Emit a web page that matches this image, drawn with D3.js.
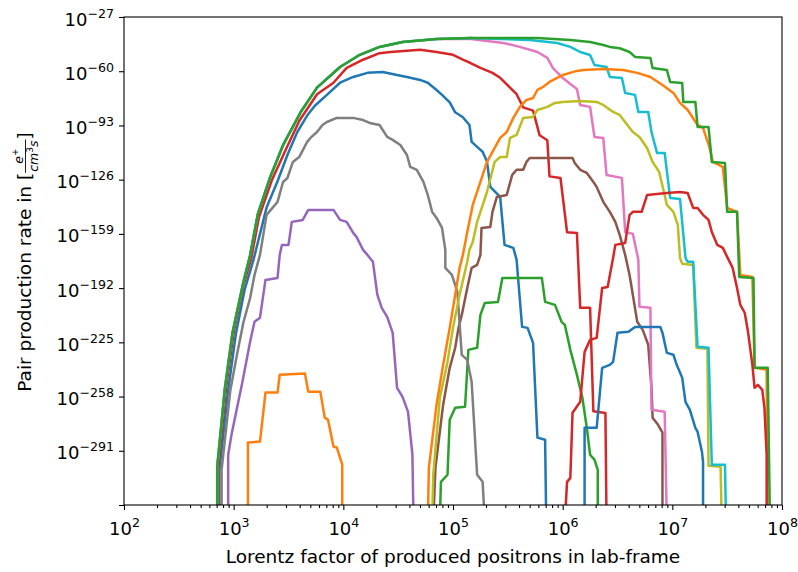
<!DOCTYPE html>
<head>
  <meta charset="utf-8">
  <script src="https://d3js.org/d3.v7.min.js"></script>
  <style>
    body { margin: 0; background: #fff; }
    svg text { font-family: "DejaVu Sans", sans-serif; fill: #000; }
    .curve { fill: none; stroke-width: 2.5; stroke-linejoin: round; }
    .axis line { stroke: #000; stroke-width: 1.1; }
    .axis .domain { display: none; }
    .frame { fill: none; stroke: #000; stroke-width: 1.1; }
  </style>
</head>
<body>
<div id="chart"></div>
<script>
// values are log10: [log10(gamma), log10(rate)]; Z means zero rate (falls off the bottom)
var Z = -Infinity;

var xTickExps = [2, 3, 4, 5, 6, 7, 8];
var yTickExps = [-324, -291, -258, -225, -192, -159, -126, -93, -60, -27];

// shared low-gamma rise of the three widest curves
var riseEdge = [[2.85,Z],[2.85,-301],[2.92,-253],[2.99,-219],[3.09,-188],[3.15,-172],[3.22,-147],
  [3.33,-125],[3.45,-105],[3.61,-85],[3.76,-70],[3.97,-57.4],[4.15,-50],[4.33,-45.2],[4.54,-42.2],[4.85,-40.4]];

var blue1 = [[2.87,Z],[2.87,-302.6],[2.95,-254],[3.02,-220],[3.10,-193],[3.18,-175],[3.30,-143],[3.40,-127],
  [3.49,-111],[3.58,-97],[3.67,-87],[3.74,-81],[3.85,-74.4],[3.97,-67],[4.09,-63.5],[4.22,-61],[4.36,-60.5],
  [4.49,-62.3],[4.58,-63.5],[4.70,-65.3],[4.77,-67],[4.85,-71.4],[4.90,-74.4],[4.97,-79],[5.02,-85],[5.09,-88],
  [5.15,-92.7],[5.17,-103],[5.22,-106],[5.27,-109],[5.31,-115],[5.34,-130.4],[5.43,-136.5],[5.47,-165.7],
  [5.55,-167.5],[5.58,-174.8],[5.63,-215.6],[5.68,-216.2],[5.73,-225.3],[5.77,-283],[5.84,-284.3],[5.85,Z]];

var orange1 = [[3.13,Z],[3.13,-286],[3.24,-285.4],[3.29,-255.6],[3.40,-255.6],[3.42,-244.7],[3.65,-244],
  [3.68,-255],[3.79,-255],[3.83,-270.8],[3.86,-272],[3.91,-288.4],[3.94,-289],[3.99,-299.5],[3.99,Z]];

var green1 = [[4.88,Z],[4.89,-309.9],[4.95,-305.6],[4.97,-272.1],[5.02,-264.8],[5.11,-264.2],[5.14,-229.6],
  [5.22,-228.3],[5.25,-208.3],[5.29,-201],[5.41,-200.4],[5.45,-185.8],[5.81,-185.8],[5.84,-200.4],[5.93,-202.2],
  [5.99,-212.5],[6.02,-214.4],[6.07,-229.6],[6.13,-244.8],[6.18,-258.8],[6.22,-277],[6.25,-293.4],[6.29,-296.4],
  [6.32,-302.6],[6.32,Z]];

var red1 = [[2.86,Z],[2.86,-301],[2.93,-253],[3.00,-219],[3.09,-190],[3.16,-174],[3.23,-149],[3.35,-126],
  [3.48,-107],[3.60,-90],[3.76,-74],[3.91,-67],[4.03,-58],[4.18,-53],[4.33,-49],[4.43,-48.3],[4.70,-47],
  [4.85,-48.3],[5.00,-50],[5.09,-53],[5.16,-55],[5.25,-58],[5.36,-61],[5.43,-64],[5.52,-70],[5.58,-74],
  [5.64,-82],[5.73,-84],[5.79,-99],[5.86,-102],[5.88,-124],[5.98,-125],[6.04,-158],[6.13,-158.4],[6.16,-204],
  [6.25,-204],[6.28,-267],[6.39,-268],[6.40,Z]];

var purple1 = [[2.95,Z],[2.95,-293.4],[2.98,-281.3],[3.08,-249],[3.15,-224.7],[3.19,-212.5],[3.24,-210],
  [3.29,-187],[3.40,-185.8],[3.42,-171.8],[3.44,-165.7],[3.50,-165.7],[3.53,-151.7],[3.63,-150.5],[3.68,-144.4],
  [3.91,-144.4],[3.97,-150.5],[4.03,-151.7],[4.09,-158.4],[4.12,-160.8],[4.18,-168.7],[4.22,-171.8],[4.27,-176],
  [4.31,-196],[4.35,-204],[4.40,-209.5],[4.45,-219.2],[4.49,-252.7],[4.54,-258.2],[4.59,-267.3],[4.63,-293.4],
  [4.64,Z]];

var brown1 = [[4.82,Z],[4.84,-301.3],[4.91,-263],[4.97,-240.5],[5.02,-228.3],[5.05,-216.2],[5.08,-208.3],
  [5.13,-191.9],[5.17,-179.7],[5.22,-177.9],[5.25,-171.8],[5.26,-155.4],[5.34,-154.8],[5.36,-145.6],[5.40,-136.5],
  [5.49,-135.3],[5.54,-123.1],[5.58,-120],[5.64,-120],[5.67,-115.2],[5.70,-112.8],[6.09,-112.8],[6.11,-115.8],
  [6.16,-120],[6.22,-121.9],[6.28,-127.4],[6.31,-130.4],[6.37,-139.5],[6.43,-145.6],[6.48,-151.7],[6.52,-159.6],
  [6.57,-171.8],[6.61,-184],[6.68,-212.5],[6.73,-217.4],[6.78,-226.5],[6.81,-252.7],[6.82,-270.9],[6.87,-275.2],
  [6.91,-280],[6.91,Z]];

var pink1 = riseEdge.concat([[5.16,-40.4],[5.46,-42.8],[5.61,-45.2],[5.77,-48.3],[5.86,-51.9],[5.91,-58],
  [5.99,-63.5],[6.07,-67.8],[6.13,-70.8],[6.16,-80.5],[6.25,-81.7],[6.29,-100],[6.37,-100.6],[6.40,-123.1],
  [6.54,-124.9],[6.57,-157.8],[6.64,-159],[6.69,-174.8],[6.70,-203.4],[6.80,-204],[6.81,-266],[6.93,-267.3],[6.95,Z]]);

var gray1 = [[2.89,Z],[2.89,-302.6],[2.97,-254],[3.03,-232.6],[3.09,-212.5],[3.15,-198],[3.19,-184],[3.24,-171.8],
  [3.30,-147.4],[3.40,-139.5],[3.45,-127.4],[3.49,-125],[3.54,-115.2],[3.60,-112],[3.67,-103],[3.70,-100.6],
  [3.76,-97],[3.81,-92.7],[3.85,-90.9],[3.94,-88.4],[4.09,-88.4],[4.18,-89.7],[4.24,-91.5],[4.33,-92.7],[4.40,-100],
  [4.45,-101.8],[4.52,-104.9],[4.58,-111],[4.61,-118.2],[4.67,-120],[4.73,-127.4],[4.77,-135.3],[4.81,-145.6],
  [4.85,-149.3],[4.90,-155.4],[4.93,-168.7],[4.93,-179.7],[4.99,-184],[5.04,-194.3],[5.08,-232.6],[5.13,-235.7],
  [5.17,-249],[5.22,-305.6],[5.27,-309.9],[5.29,Z]];

var olive1 = [[4.81,Z],[4.82,-305.6],[4.88,-258.8],[4.95,-236.9],[5.00,-216.2],[5.06,-196.1],[5.13,-176],
  [5.15,-168.7],[5.18,-163.9],[5.22,-151.7],[5.31,-133.5],[5.38,-115.2],[5.43,-112.2],[5.49,-112.2],[5.52,-100.6],
  [5.58,-98.8],[5.64,-88.4],[5.73,-87.8],[5.77,-83.6],[5.86,-81.7],[5.93,-79.3],[6.00,-78.7],[6.16,-78.1],
  [6.31,-78.7],[6.37,-80.5],[6.46,-84.8],[6.52,-86.6],[6.59,-92.7],[6.64,-97],[6.70,-100],[6.77,-106.7],
  [6.82,-115.2],[6.88,-121.3],[6.93,-135.3],[6.95,-141.4],[7.01,-145.6],[7.05,-153.5],[7.07,-173.6],[7.09,-177.2],
  [7.19,-177.9],[7.22,-228.3],[7.32,-228.9],[7.33,-300.1],[7.44,-300.7],[7.45,Z]];

var cyan1 = riseEdge.concat([[5.16,-39.8],[5.43,-40.4],[5.70,-41],[5.95,-42.8],[6.07,-45.2],[6.16,-48.3],
  [6.25,-50.1],[6.29,-56.2],[6.40,-57.4],[6.43,-63.5],[6.54,-64.1],[6.57,-73.2],[6.66,-74.4],[6.69,-84.8],
  [6.78,-84.8],[6.81,-97],[6.86,-109.7],[6.93,-109.7],[6.98,-137.1],[7.07,-137.7],[7.12,-173.6],[7.14,-176],
  [7.19,-176],[7.23,-227.7],[7.33,-228.3],[7.36,-299.5],[7.48,-299.5],[7.49,Z]]);

var blue2 = [[6.20,Z],[6.20,-277],[6.31,-277],[6.36,-240.5],[6.43,-238.7],[6.46,-236.9],[6.50,-219.2],
  [6.60,-218.6],[6.66,-215.6],[6.89,-215.6],[6.91,-219.2],[6.95,-231.4],[7.01,-232.6],[7.04,-238.7],[7.09,-246.6],
  [7.12,-261.2],[7.16,-266.1],[7.21,-277],[7.23,-279.4],[7.27,-291.6],[7.28,-297.7],[7.28,Z]];

var orange2 = [[4.77,Z],[4.78,-301.3],[4.85,-263],[4.91,-238.7],[4.97,-216.2],[5.02,-196],[5.06,-179.7],
  [5.09,-171.8],[5.13,-157.8],[5.18,-141.4],[5.25,-127.4],[5.31,-115.2],[5.36,-109.1],[5.43,-100.6],[5.49,-97],
  [5.55,-88.4],[5.61,-81.7],[5.67,-77.5],[5.73,-76.3],[5.77,-71.4],[5.82,-69.6],[5.88,-66.5],[5.95,-64.1],
  [6.00,-62.3],[6.13,-59.8],[6.19,-59.2],[6.37,-58.6],[6.55,-59.2],[6.68,-61],[6.80,-63.5],[6.91,-68.4],
  [7.01,-73.2],[7.07,-79.3],[7.14,-83.6],[7.23,-92.7],[7.28,-94.5],[7.34,-106.7],[7.37,-115.2],[7.46,-118.2],
  [7.50,-143.2],[7.59,-145.6],[7.62,-184],[7.73,-185.2],[7.75,-240.5],[7.86,-241.7],[7.87,Z]];

var green2 = riseEdge.concat([[5.16,-39.8],[5.46,-39.8],[5.77,-39.8],[6.07,-41],[6.25,-42.2],[6.37,-44],
  [6.43,-45.2],[6.52,-46],[6.61,-48.3],[6.66,-51.3],[6.80,-52],[6.82,-58],[6.95,-59.2],[6.98,-66.5],[7.09,-67.1],
  [7.10,-78.7],[7.21,-78.7],[7.23,-93.9],[7.33,-93.9],[7.36,-115.2],[7.48,-115.8],[7.50,-145.6],[7.59,-145.6],
  [7.61,-185.2],[7.74,-185.8],[7.75,-240.5],[7.87,-240.5],[7.89,Z]]);

var red2 = [[6.02,Z],[6.04,-309.9],[6.07,-307.5],[6.09,-267.9],[6.16,-261.2],[6.20,-230.8],[6.25,-223.5],
  [6.31,-222.3],[6.36,-191.9],[6.41,-191.3],[6.46,-173.6],[6.48,-165.7],[6.57,-164.5],[6.61,-147.4],[6.64,-145.6],
  [6.72,-145.6],[6.77,-135.3],[6.95,-134.1],[7.07,-133.5],[7.14,-134.1],[7.19,-143.2],[7.23,-143.2],[7.28,-147.4],
  [7.33,-150.5],[7.36,-157.8],[7.41,-165.7],[7.46,-167.5],[7.50,-173],[7.55,-179.7],[7.59,-191.9],[7.62,-202.2],
  [7.66,-207],[7.69,-218.6],[7.73,-238.7],[7.75,-252.7],[7.78,-250.9],[7.82,-253.9],[7.84,-264.9],[7.86,-293.4],
  [7.86,Z]];

// plotting order follows the matplotlib colour cycle
var series = [blue1, orange1, green1, red1, purple1, brown1, pink1, gray1, olive1, cyan1,
              blue2, orange2, green2, red2];
var colors = ['#1f77b4','#ff7f0e','#2ca02c','#d62728','#9467bd','#8c564b','#e377c2','#7f7f7f','#bcbd22','#17becf'];

var width = 798, height = 572;
var plot = {left: 124, right: 782, top: 17, bottom: 505};
var fs = 18, fsSup = 12.6, fsLab = 18.5;

var svg = d3.select("#chart").append("svg")
    .attr("width", width)
    .attr("height", height);

var x = d3.scaleLog().domain([1e2, 1e8]).range([plot.left, plot.right]);
var y = d3.scaleLinear().domain([yTickExps[0], -27]).range([plot.bottom, plot.top]);

svg.append("clipPath").attr("id", "clip")
  .append("rect")
    .attr("x", plot.left).attr("y", plot.top)
    .attr("width", plot.right - plot.left).attr("height", plot.bottom - plot.top);

var line = d3.line()
    .x(function(d) { return x(Math.pow(10, d[0])); })
    .y(function(d) { return y(Math.max(d[1], yTickExps[0] - 10)); });

svg.append("g").attr("clip-path", "url(#clip)")
  .selectAll("path")
    .data(series)
  .enter().append("path")
    .attr("class", "curve")
    .attr("d", line)
    .style("stroke", function(d, i) { return colors[i % colors.length]; });

// minor x ticks
var xMinor = [];
xTickExps.slice(0, -1).forEach(function(e) {
  for (var m = 2; m < 10; m++) xMinor.push(m * Math.pow(10, e));
});

svg.append("g")
    .attr("class", "axis")
    .attr("transform", "translate(0," + plot.bottom + ")")
    .call(d3.axisBottom(x).tickValues(xMinor).tickSize(3).tickFormat(""));

var xAxis = svg.append("g")
    .attr("class", "axis")
    .attr("transform", "translate(0," + plot.bottom + ")")
    .call(d3.axisBottom(x).tickValues(xTickExps.map(function(e) { return Math.pow(10, e); }))
      .tickSize(5).tickFormat(""));

xAxis.selectAll(".tick").each(function(d, i) {
  var t = d3.select(this).append("text")
      .attr("y", 30)
      .attr("text-anchor", "middle")
      .style("font-size", fs + "px");
  t.append("tspan").text("10");
  t.append("tspan").attr("dy", -8).style("font-size", fsSup + "px").text(xTickExps[i]);
});

var yAxis = svg.append("g")
    .attr("class", "axis")
    .attr("transform", "translate(" + plot.left + ",0)")
    .call(d3.axisLeft(y).tickValues(yTickExps).tickSize(5).tickFormat(""));

yAxis.selectAll(".tick").each(function(d, i) {
  if (i === 0) return;
  var t = d3.select(this).append("text")
      .attr("x", -10)
      .attr("y", 8)
      .attr("text-anchor", "end")
      .style("font-size", fs + "px");
  t.append("tspan").text("10");
  t.append("tspan").attr("dy", -8).style("font-size", fsSup + "px")
      .text(String(d).replace("-", "\u2212"));
});

svg.append("rect")
    .attr("class", "frame")
    .attr("x", plot.left).attr("y", plot.top)
    .attr("width", plot.right - plot.left).attr("height", plot.bottom - plot.top);

// axis titles
svg.append("text")
    .attr("x", (plot.left + plot.right) / 2)
    .attr("y", 563)
    .attr("text-anchor", "middle")
    .style("font-size", fsLab + "px")
    .text("Lorentz factor of produced positrons in lab-frame");

var ylab = svg.append("g").attr("transform", "translate(31,262) rotate(-90)");
var main = ylab.append("text").style("font-size", fsLab + "px").text("Pair production rate in [");
var mainW = main.node().getComputedTextLength();
var num = ylab.append("text").style("font-size", "12.5px").style("font-style", "italic");
num.append("tspan").text("e");
num.append("tspan").attr("dy", -5).style("font-size", "9px").style("font-style", "normal").text("+");
var den = ylab.append("text").style("font-size", "12.5px").style("font-style", "italic");
den.append("tspan").text("cm");
den.append("tspan").attr("dy", -5).style("font-size", "9px").style("font-style", "normal").text("3");
den.append("tspan").attr("dy", 5).text("s");
var numW = num.node().getComputedTextLength(), denW = den.node().getComputedTextLength();
var fracW = Math.max(numW, denW) + 2;
var close = ylab.append("text").style("font-size", fsLab + "px").text("]");
var total = mainW + fracW + close.node().getComputedTextLength();
var x0 = -total / 2;
main.attr("x", x0);
num.attr("x", x0 + mainW + (fracW - numW) / 2).attr("y", -8.5);
den.attr("x", x0 + mainW + (fracW - denW) / 2).attr("y", 7);
ylab.append("line")
    .attr("x1", x0 + mainW).attr("x2", x0 + mainW + fracW)
    .attr("y1", -5.5).attr("y2", -5.5)
    .attr("stroke", "#000").attr("stroke-width", 0.9);
close.attr("x", x0 + mainW + fracW);
</script>
</body>
